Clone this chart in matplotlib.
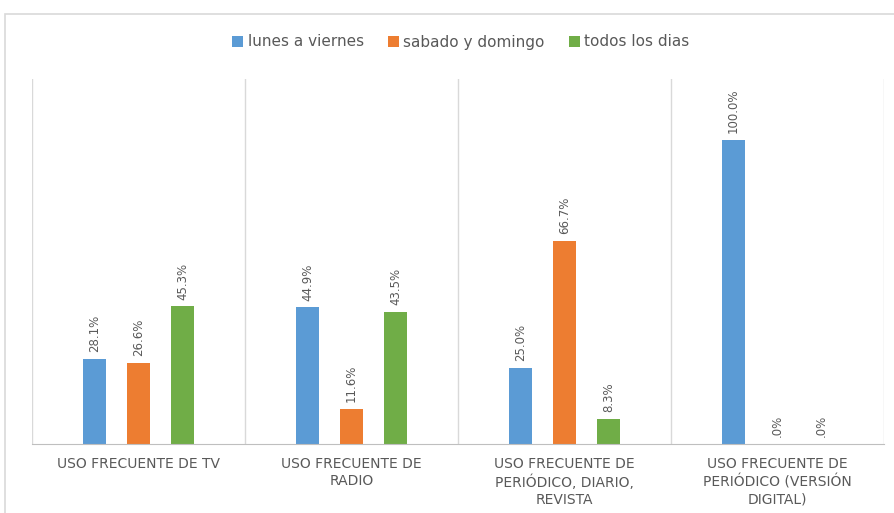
import numpy as np
import matplotlib
matplotlib.use("Agg")
import matplotlib.pyplot as plt
from matplotlib.patches import Rectangle

# ──────────────────────────────────────────
# Data
# ──────────────────────────────────────────
categories = [
    "USO FRECUENTE DE TV",
    "USO FRECUENTE DE\nRADIO",
    "USO FRECUENTE DE\nPERIÓDICO, DIARIO,\nREVISTA",
    "USO FRECUENTE DE\nPERIÓDICO (VERSIÓN\nDIGITAL)",
]
series_names = ["lunes a viernes", "sabado y domingo", "todos los dias"]
lunes_a_viernes = [0.281, 0.449, 0.250, 1.000]
sabado_y_domingo = [0.266, 0.116, 0.667, 0.000]
todos_los_dias = [0.453, 0.435, 0.083, 0.000]
colors = ["#5B9BD5", "#ED7D31", "#70AD47"]

series = [lunes_a_viernes, sabado_y_domingo, todos_los_dias]


def pct_label(v):
    s = f"{v * 100:.1f}%"
    if s.startswith("0"):
        s = s[1:]
    return s


# ──────────────────────────────────────────
# Figure
# ──────────────────────────────────────────
fig = plt.figure(figsize=(8.95, 5.13), dpi=100)
ax = fig.add_axes([32 / 895, 69 / 513, 852 / 895, 365 / 513])

# outer chart border
fig.patches.append(Rectangle((5 / 895, -0.05), 1.0, (513 - 14) / 513 + 0.05,
                             transform=fig.transFigure, fill=False,
                             edgecolor="#D9D9D9", linewidth=1.2))

x = np.arange(len(categories))
width = 0.108
offsets = [-0.207, 0.0, 0.207]

for vals, name, col, off in zip(series, series_names, colors, offsets):
    bars = ax.bar(x + off, vals, width, color=col, label=name, zorder=2)
    for b, v in zip(bars, vals):
        ax.text(b.get_x() + b.get_width() / 2, v + 0.022, pct_label(v),
                rotation=90, ha="center", va="bottom",
                fontsize=8.5, color="#595959")

ax.set_xlim(-0.5, len(categories) - 0.5)
ax.set_ylim(0, 1.2)

# category separators
for sep in np.arange(-0.5, len(categories), 1.0):
    ax.axvline(sep, color="#D9D9D9", linewidth=1, zorder=1)

for s in ["top", "right", "left"]:
    ax.spines[s].set_visible(False)
ax.spines["bottom"].set_color("#BFBFBF")
ax.set_yticks([])
ax.set_xticks(x)
ax.set_xticklabels(categories, fontsize=10, color="#595959",
                   linespacing=1.3)
ax.tick_params(axis="x", length=0, pad=9)

fig.legend(loc="center", bbox_to_anchor=(461 / 895, 1 - 42 / 513),
           ncol=3, frameon=False, handlelength=0.7,
           handleheight=0.7, handletextpad=0.3, columnspacing=1.6,
           labelcolor="#595959", fontsize=11)

fig.savefig("out.png", dpi=100)
